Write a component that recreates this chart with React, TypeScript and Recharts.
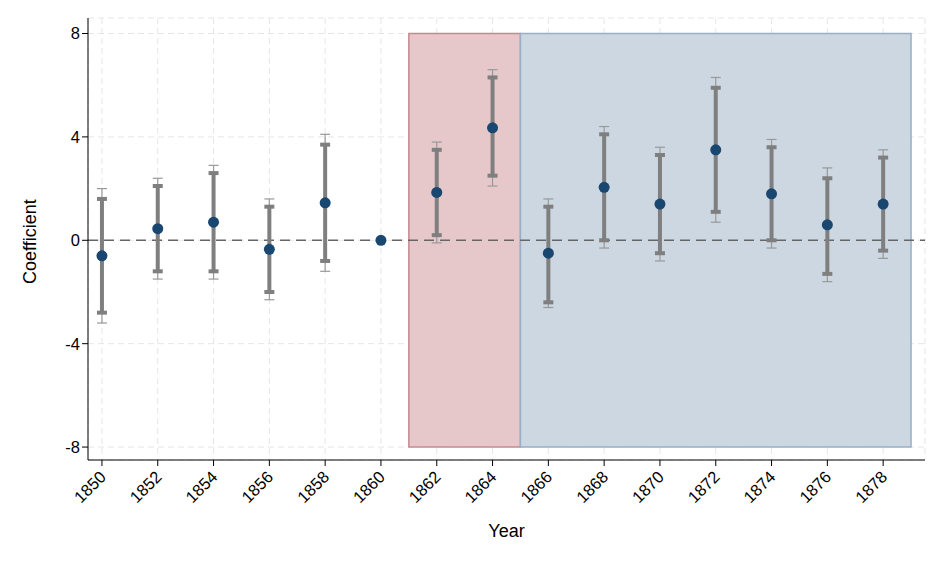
import {
  ComposedChart,
  Scatter,
  ErrorBar,
  XAxis,
  YAxis,
  CartesianGrid,
  ReferenceArea,
  ReferenceLine,
} from "recharts";

const years = [1850, 1852, 1854, 1856, 1858, 1860, 1862, 1864, 1866, 1868, 1870, 1872, 1874, 1876, 1878];
const coef = [-0.6, 0.45, 0.7, -0.35, 1.45, 0, 1.85, 4.35, -0.5, 2.05, 1.4, 3.5, 1.8, 0.6, 1.4];
const innerLo = [-2.8, -1.2, -1.2, -2.0, -0.8, 0, 0.2, 2.5, -2.4, 0, -0.5, 1.1, 0, -1.3, -0.4];
const innerHi = [1.6, 2.1, 2.6, 1.3, 3.7, 0, 3.5, 6.3, 1.3, 4.1, 3.3, 5.9, 3.6, 2.4, 3.2];
const outerLo = [-3.2, -1.5, -1.5, -2.3, -1.2, 0, -0.1, 2.1, -2.6, -0.3, -0.8, 0.7, -0.3, -1.6, -0.7];
const outerHi = [2.0, 2.4, 2.9, 1.6, 4.1, 0, 3.8, 6.6, 1.6, 4.4, 3.6, 6.3, 3.9, 2.8, 3.5];
const yTicks = [-8, -4, 0, 4, 8];

const data = years.map((year, i) => ({
  year,
  coef: coef[i],
  inner: [coef[i] - innerLo[i], innerHi[i] - coef[i]],
  outer: [coef[i] - outerLo[i], outerHi[i] - coef[i]],
}));

const font = "Helvetica, Arial, 'Liberation Sans', sans-serif";

function YearTick({ x, y, payload }: any) {
  return (
    <text
      x={x + 5}
      y={y + 10}
      transform={`rotate(-45, ${x + 5}, ${y + 10})`}
      textAnchor="end"
      fontSize={16.5}
      fill="#000"
      fontFamily={font}
    >
      {payload.value}
    </text>
  );
}

export default function App() {
  return (
    <div style={{ margin: -8, background: "#fff", width: 945, height: 567 }}>
      <ComposedChart
        width={945}
        height={567}
        data={data}
        margin={{ top: 18, right: 20, bottom: 22, left: 28 }}
      >
        <CartesianGrid stroke="#e6e6e6" strokeDasharray="6 4" />
        <ReferenceArea x1={1861} x2={1865} y1={-8} y2={8} fill="#e6c8cb" fillOpacity={1} stroke="#c7898f" strokeWidth={1.5} />
        <ReferenceArea x1={1865} x2={1879} y1={-8} y2={8} fill="#cdd7e1" fillOpacity={1} stroke="#98b0c6" strokeWidth={1.5} />
        <ReferenceLine y={0} stroke="#666" strokeDasharray="10 6" strokeWidth={1.5} />
        <XAxis
          dataKey="year"
          type="number"
          domain={[1849.5, 1879.5]}
          ticks={years}
          interval={0}
          tick={<YearTick />}
          tickLine={{ stroke: "#000" }}
          axisLine={{ stroke: "#000" }}
          height={85}
          label={{ value: "Year", position: "insideBottom", offset: 8, fontSize: 18, fill: "#000", fontFamily: font }}
        />
        <YAxis
          type="number"
          domain={[-8.5, 8.6]}
          ticks={yTicks}
          width={60}
          tick={{ fontSize: 16.5, fill: "#000", fontFamily: font }}
          tickLine={{ stroke: "#000" }}
          axisLine={{ stroke: "#000" }}
          label={{ value: "Coefficient", angle: -90, position: "insideLeft", offset: 2, dy: 45, fontSize: 18, fill: "#000", fontFamily: font }}
        />
        <Scatter dataKey="coef" fill="#1a476f" isAnimationActive={false} shape={(p: any) => <circle cx={p.cx} cy={p.cy} r={5.5} fill="#1a476f" />}>
          <ErrorBar dataKey="outer" direction="y" width={5} stroke="#999" strokeWidth={1.2} isAnimationActive={false} />
          <ErrorBar dataKey="inner" direction="y" width={5} stroke="#7f7f7f" strokeWidth={4} isAnimationActive={false} />
        </Scatter>
      </ComposedChart>
    </div>
  );
}
